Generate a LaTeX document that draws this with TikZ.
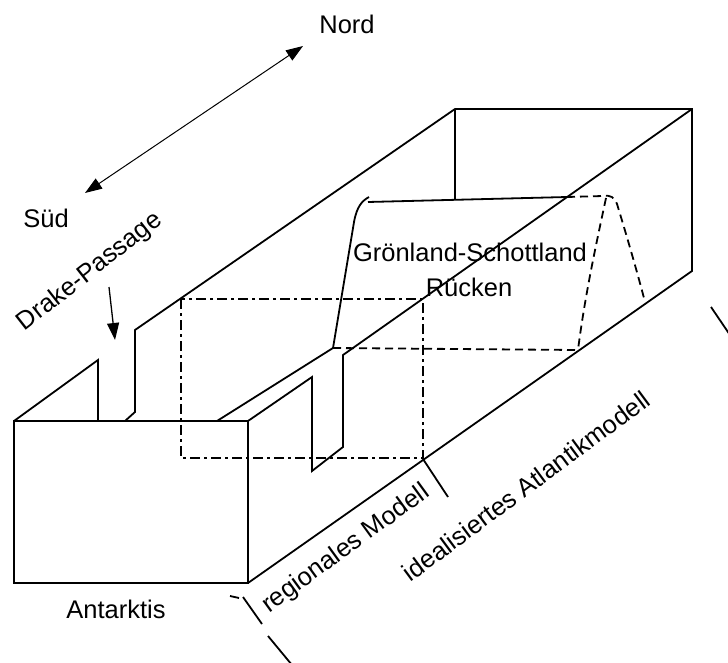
\documentclass[tikz,border=0pt]{standalone}
\usepackage{fontspec}
\setmainfont{Liberation Sans}
\usetikzlibrary{arrows.meta}
\tikzset{bigtip/.tip={Triangle[length=17pt,width=12pt]}}
\begin{document}
\begin{tikzpicture}[x=1pt,y=-1pt,
  edge/.style={line width=1.8pt, line join=miter},
  hidden/.style={line width=1.8pt, dash pattern=on 8pt off 5pt},
  regionbox/.style={line width=1.1pt, dash pattern=on 10pt off 4pt on 3pt off 4pt},
  tick/.style={line width=1.8pt},
  lbl/.style={font=\fontsize{25.5}{30}\selectfont, inner sep=0pt},
]
\useasboundingbox (0,0) rectangle (728,663);
\clip (0,0) rectangle (728,663);

% corners of the basin
\coordinate (FTL) at (14,421);
\coordinate (FTR) at (248,421);
\coordinate (FBR) at (248,583);
\coordinate (BTL) at (455,109);
\coordinate (BTR) at (692,109);
\coordinate (BBR) at (692,271);

% southern front face
\draw[edge] (FTL) rectangle (FBR);
% western wall, cut by the Drake Passage
\draw[edge] (FTL) -- (98,360) -- (98,421);
\draw[edge] (125,421) -- (135,412) -- (135,330) -- (BTL) -- (BTR) -- (BBR) -- (FBR);
\draw[edge] (BTL) -- (455,200);
% eastern wall with its gap
\draw[edge] (FTR) -- (312,377) -- (312,471) -- (343,447) -- (343,355) -- (BTR);
\draw[edge] (217,421) -- (333,348);

% Greenland-Scotland ridge
\draw[edge] (333,348) -- (354,222) .. controls (357,206) and (362,201) .. (369,197);
\draw[edge] (368,202) -- (567,197);
\draw[hidden] (567,197) -- (603,196) .. controls (611,195) and (614,197) .. (617,204)
  .. controls (628,240) and (638,275) .. (645,302);
\draw[hidden] (606,198) .. controls (596,245) and (585,295) .. (578,350);
\draw[hidden] (333,348) -- (578,350);

% regional model domain
\draw[regionbox] (181,299) rectangle (423,458);

% extent markers
\draw[tick] (423,459) -- (448,497);
\draw[tick] (230,596) -- (239,598);
\draw[tick] (243,597) -- (262,624);
\draw[tick] (268,636) -- (292,665);
\draw[tick] (711,307) -- (730,335);

% orientation
\coordinate (sArrow) at (85,193);
\coordinate (nArrow) at (303,46);
\draw[line width=1pt, bigtip-bigtip] (sArrow) -- (nArrow);
\node[lbl] (nord) at (347,24) {Nord};
\node[lbl] (sued) at (46,218) {Süd};

% labels
\node[lbl, rotate=38] (drake) at (90,272) {Drake-Passage};
\coordinate (dStart) at (109,287);
\coordinate (dEnd) at (115,340);
\draw[line width=1.3pt, -bigtip] (dStart) -- (dEnd);
\node[lbl] (gsr1) at (470,252) {Grönland-Schottland};
\node[lbl] (gsr2) at (469,287) {Rücken};
\node[lbl] (ant) at (116,609) {Antarktis};
\node[lbl, rotate=36] (reg) at (346,549) {regionales Modell};
\node[lbl, rotate=36.5] (atl) at (526,486) {idealisiertes Atlantikmodell};
\end{tikzpicture}
\end{document}
